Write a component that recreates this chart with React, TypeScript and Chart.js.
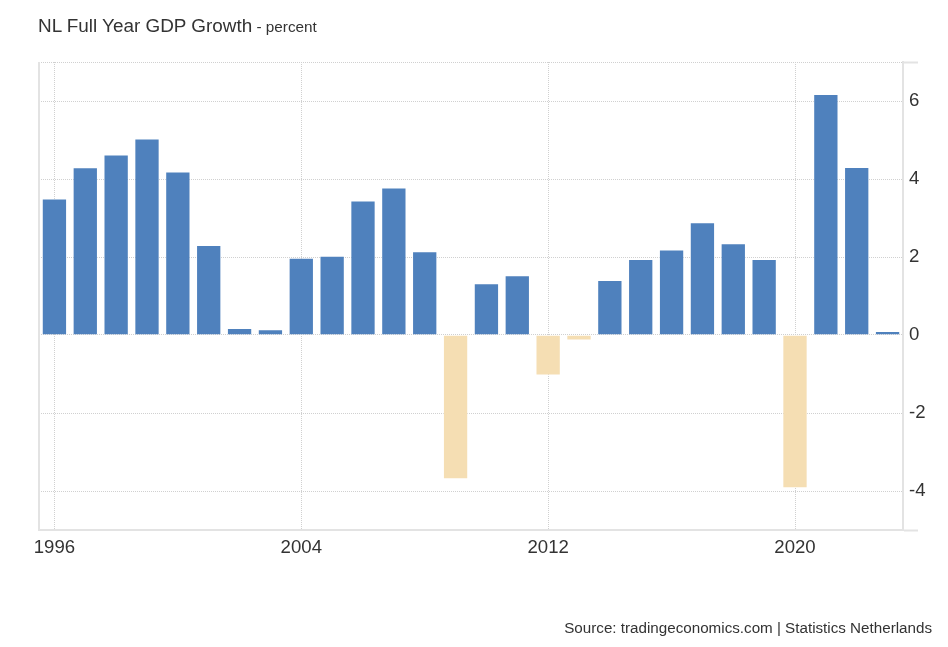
import React, { useEffect, useRef } from "react";
import { Chart, registerables } from "chart.js";

Chart.register(...registerables);

const years: string[] = [
  "1996", "1997", "1998", "1999", "2000", "2001", "2002", "2003", "2004", "2005",
  "2006", "2007", "2008", "2009", "2010", "2011", "2012", "2013", "2014", "2015",
  "2016", "2017", "2018", "2019", "2020", "2021", "2022", "2023",
];

const gdpGrowth: number[] = [
  3.5, 4.3, 4.63, 5.04, 4.19, 2.31, 0.18, 0.15, 1.98, 2.03,
  3.45, 3.78, 2.15, -3.7, 1.33, 1.53, -1.04, -0.14, 1.41, 1.95,
  2.19, 2.89, 2.35, 1.95, -3.93, 6.18, 4.31, 0.1,
];

const xTickYears: string[] = ["1996", "2004", "2012", "2020"];
const yAxisMin = -5;
const yAxisMax = 7;
const yTickValues: number[] = [-4, -2, 0, 2, 4, 6];

const FONT = 'Arial, "Liberation Sans", sans-serif';
const POS_COLOR = "#4f81bd";
const NEG_COLOR = "#f5deb3";
const GRID_COLOR = "#d0d0d0";
const BORDER_COLOR = "#e3e3e3";
const TEXT_COLOR = "#333333";

const leftBorderPlugin = {
  id: "leftBorder",
  beforeDatasetsDraw(chart: any) {
    const { ctx, chartArea } = chart;
    ctx.save();
    ctx.strokeStyle = BORDER_COLOR;
    ctx.lineWidth = 2;
    ctx.beginPath();
    ctx.moveTo(chartArea.left, chartArea.top);
    ctx.lineTo(chartArea.left, chartArea.bottom);
    ctx.stroke();
    ctx.restore();
  },
};

export default function App() {
  const canvasRef = useRef<HTMLCanvasElement | null>(null);

  useEffect(() => {
    if (!canvasRef.current) return;
    const chart = new Chart(canvasRef.current, {
      type: "bar",
      data: {
        labels: years,
        datasets: [
          {
            data: gdpGrowth,
            backgroundColor: gdpGrowth.map((v) => (v < 0 ? NEG_COLOR : POS_COLOR)),
            borderColor: "rgba(255,255,255,0.35)",
            borderWidth: 1,
            barPercentage: 0.82,
            categoryPercentage: 1,
          },
        ],
      },
      options: {
        animation: false,
        responsive: false,
        layout: { padding: { left: 39, top: 62, right: 0, bottom: 0 } },
        plugins: {
          legend: { display: false },
          tooltip: { enabled: false },
        },
        scales: {
          x: {
            type: "category",
            offset: true,
            grid: {
              offset: false,
              drawTicks: false,
              lineWidth: 1,
              color: (ctx: any) =>
                xTickYears.includes(years[ctx.index]) ? GRID_COLOR : "rgba(0,0,0,0)",
            },
            border: { display: true, color: BORDER_COLOR, width: 2, dash: [1, 1] },
            ticks: {
              autoSkip: false,
              maxRotation: 0,
              padding: 7,
              color: TEXT_COLOR,
              font: { family: FONT, size: 18.6 },
              callback: (_v: any, idx: number) =>
                xTickYears.includes(years[idx]) ? years[idx] : "",
            },
            afterFit: (scale: any) => {
              scale.height = 117;
            },
          },
          y: {
            position: "right",
            min: yAxisMin,
            max: yAxisMax,
            afterBuildTicks: (scale: any) => {
              scale.ticks = [yAxisMin, ...yTickValues, yAxisMax].map((v) => ({ value: v }));
            },
            ticks: {
              padding: -9,
              color: TEXT_COLOR,
              font: { family: FONT, size: 18.6 },
              callback: (v: any) => (yTickValues.includes(Number(v)) ? String(v) : ""),
            },
            grid: {
              drawTicks: true,
              tickLength: 15,
              tickWidth: 2,
              lineWidth: 1,
              color: GRID_COLOR,
              tickColor: (ctx: any) =>
                ctx.tick && (ctx.tick.value === yAxisMax || ctx.tick.value === yAxisMin)
                  ? BORDER_COLOR
                  : "rgba(0,0,0,0)",
            },
            border: { display: true, color: BORDER_COLOR, width: 2, dash: [1, 1] },
            afterFit: (scale: any) => {
              scale.width = 45;
            },
          },
        },
      },
      plugins: [leftBorderPlugin],
    });
    return () => chart.destroy();
  }, []);

  return (
    <div
      style={{
        position: "absolute",
        left: 0,
        top: 0,
        width: 948,
        height: 647,
        background: "#ffffff",
        overflow: "hidden",
        fontFamily: FONT,
      }}
    >
      <canvas
        ref={canvasRef}
        width={948}
        height={647}
        style={{ position: "absolute", left: 0, top: 0, width: 948, height: 647 }}
      />
      <div
        style={{
          position: "absolute",
          left: 38,
          top: 15,
          color: TEXT_COLOR,
          whiteSpace: "nowrap",
        }}
      >
        <span style={{ fontSize: 18.9 }}>NL Full Year GDP Growth</span>
        <span style={{ fontSize: 15.3 }}> - percent</span>
      </div>
      <div
        style={{
          position: "absolute",
          right: 16,
          top: 619,
          color: TEXT_COLOR,
          fontSize: 15.2,
          whiteSpace: "nowrap",
        }}
      >
        Source: tradingeconomics.com | Statistics Netherlands
      </div>
    </div>
  );
}
